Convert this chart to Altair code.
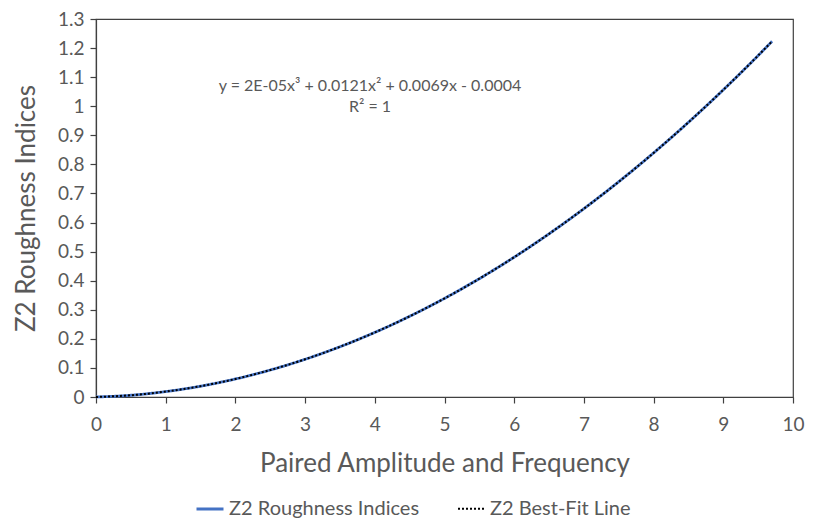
import altair as alt
import pandas as pd

x_vals = [0, 0.5, 1, 1.5, 2, 2.5, 3, 3.5, 4, 4.5, 5, 5.5, 6, 6.5, 7, 7.5, 8, 8.5, 9, 9.5, 9.7]
y_rough = [0.0, 0.006, 0.0186, 0.0372, 0.062, 0.0928, 0.1297, 0.1728, 0.2221, 0.2775,
           0.3391, 0.4069, 0.4809, 0.5612, 0.6477, 0.7404, 0.8394, 0.9448, 1.0564, 1.1743, 1.2233]
y_fit = [0.0, 0.006, 0.0186, 0.0372, 0.062, 0.0928, 0.1297, 0.1728, 0.2221, 0.2775,
         0.3391, 0.4069, 0.4809, 0.5612, 0.6477, 0.7404, 0.8394, 0.9448, 1.0564, 1.1743, 1.2233]
series_names = ["Z2 Roughness Indices", "Z2 Best-Fit Line"]
x_ticks = [0, 1, 2, 3, 4, 5, 6, 7, 8, 9, 10]
y_ticks = [0, 0.1, 0.2, 0.3, 0.4, 0.5, 0.6, 0.7, 0.8, 0.9, 1.0, 1.1, 1.2, 1.3]
eq_text = "y = 2E-05x\u00b3 + 0.0121x\u00b2 + 0.0069x - 0.0004\nR\u00b2 = 1"

df = pd.DataFrame({
    "x": x_vals + x_vals,
    "y": y_rough + y_fit,
    "series": [series_names[0]] * len(x_vals) + [series_names[1]] * len(x_vals),
    "order": [0] * len(x_vals) + [1] * len(x_vals),
})

FONT = "Lato"
GREY = "#595959"

xenc = alt.X("x:Q", scale=alt.Scale(domain=[0, 10], nice=False),
             axis=alt.Axis(values=x_ticks, title="Paired Amplitude and Frequency",
                           grid=False, tickSize=6, labelPadding=12, titlePadding=16,
                           labelFlush=False, format="d"))
yenc = alt.Y("y:Q", scale=alt.Scale(domain=[0, 1.3], nice=False),
             axis=alt.Axis(values=y_ticks, title="Z2 Roughness Indices",
                           grid=False, tickSize=6, labelPadding=6, titlePadding=18,
                           labelFlush=False,
                           labelExpr="datum.value == 1 ? '1' : (datum.value == 0 ? '0' : format(datum.value, '.1f'))"))

base = alt.Chart(df)

lines = base.mark_line(interpolate="monotone").encode(
    x=xenc,
    y=yenc,
    color=alt.Color("series:N", scale=alt.Scale(domain=series_names, range=["#4472C4", "#000000"]),
                    legend=alt.Legend(title=None, orient="none", legendX=99, legendY=475,
                                      direction="horizontal", symbolType="stroke",
                                      symbolSize=729, symbolStrokeWidth=2.5,
                                      labelFontSize=20, labelFont=FONT, labelColor=GREY,
                                      labelLimit=0, columnPadding=34, labelOffset=4)),
    strokeDash=alt.StrokeDash("series:N", scale=alt.Scale(domain=series_names, range=[[1, 0], [2, 2]]),
                              legend=None),
    strokeWidth=alt.StrokeWidth("series:N", scale=alt.Scale(domain=series_names, range=[2.8, 2.0]),
                                legend=None),
    order=alt.Order("order:Q"),
    detail="series:N",
)

eq_df = pd.DataFrame({"t": [eq_text]})
eq = alt.Chart(eq_df).mark_text(font=FONT, fontSize=16, color=GREY, align="center",
                                baseline="middle", lineBreak="\n", lineHeight=21).encode(
    x=alt.value(274),
    y=alt.value(67),
    text="t:N",
)

chart = alt.layer(lines, eq).properties(
    width=697, height=378,
    padding={"left": 88, "top": 11, "right": 13, "bottom": 125},
    autosize=alt.AutoSizeParams(type="none"),
).configure_view(stroke="#404040", strokeWidth=1.2).configure_axis(
    domainColor="#404040", tickColor="#404040", domainWidth=1.2, tickWidth=1.2,
    labelFont=FONT, labelFontSize=19, labelColor=GREY,
    titleFont=FONT, titleFontSize=26, titleColor=GREY, titleFontWeight="normal",
)

chart.save("out.html", embed_options={"renderer": "svg", "actions": False})
